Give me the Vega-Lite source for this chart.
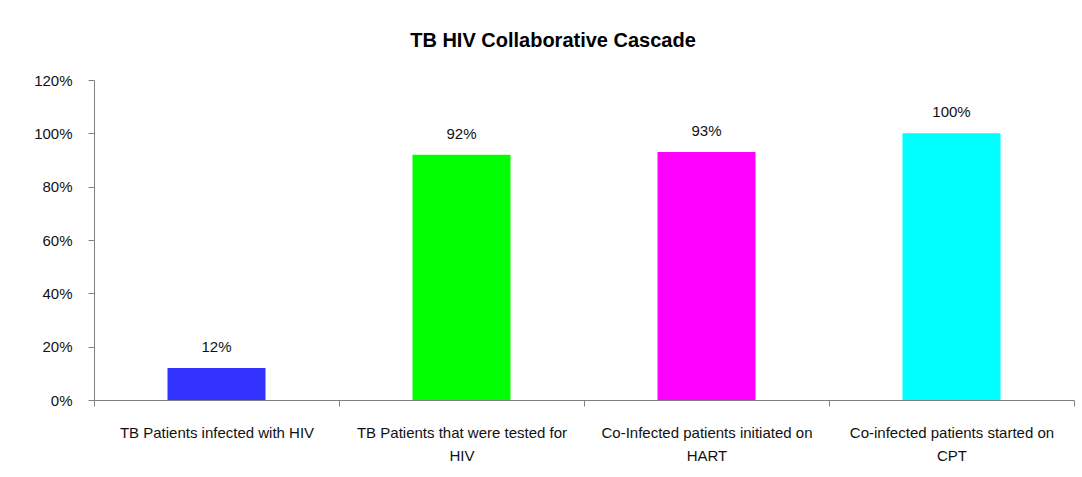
{
  "$schema": "https://vega.github.io/schema/vega-lite/v6.json",
  "width": 980,
  "height": 320,
  "autosize": {"type": "none"},
  "padding": {"left": 94, "top": 80, "right": 8, "bottom": 77},
  "background": "white",
  "title": {
    "text": "TB HIV Collaborative Cascade",
    "font": "Liberation Sans",
    "fontSize": 20,
    "fontWeight": "bold",
    "color": "#000000",
    "anchor": "middle",
    "dx": -31,
    "offset": 22
  },
  "data": {
    "values": [
      {"category": "TB Patients  infected  with HIV", "value": 0.12},
      {"category": "TB Patients that were tested for|HIV", "value": 0.92},
      {"category": "Co-Infected patients initiated on|HART", "value": 0.93},
      {"category": "Co-infected patients started on|CPT", "value": 1.0}
    ]
  },
  "encoding": {
    "x": {
      "field": "category",
      "type": "nominal",
      "sort": null,
      "scale": {"paddingInner": 0, "paddingOuter": 0},
      "axis": {
        "title": null,
        "labelAngle": 0,
        "labelExpr": "split(datum.label, '|')",
        "labelFont": "Liberation Sans",
        "labelFontSize": 15,
        "labelColor": "#111111",
        "labelPadding": 19,
        "labelLineHeight": 23,
        "labelBaseline": "top",
        "tickBand": "extent",
        "tickSize": 6,
        "tickColor": "#808080",
        "domainColor": "#808080",
        "labelLimit": 300
      }
    },
    "y": {
      "field": "value",
      "type": "quantitative",
      "scale": {"domain": [0, 1.2]},
      "axis": {
        "title": null,
        "values": [0, 0.2, 0.4, 0.6, 0.8, 1.0, 1.2],
        "format": ".0%",
        "grid": false,
        "labelFont": "Liberation Sans",
        "labelFontSize": 15,
        "labelColor": "#111111",
        "labelPadding": 16,
        "tickSize": 6,
        "tickColor": "#808080",
        "domainColor": "#808080"
      }
    }
  },
  "layer": [
    {
      "mark": {"type": "bar", "width": {"band": 0.4}},
      "encoding": {
        "color": {
          "field": "category",
          "type": "nominal",
          "sort": null,
          "scale": {"range": ["#3333FF", "#00FF00", "#FF00FF", "#00FFFF"]},
          "legend": null
        }
      }
    },
    {
      "mark": {"type": "text", "dy": -13, "font": "Liberation Sans", "fontSize": 15, "color": "#111111", "baseline": "bottom"},
      "encoding": {
        "text": {"field": "value", "type": "quantitative", "format": ".0%"}
      }
    }
  ],
  "config": {
    "view": {"stroke": null}
  }
}
